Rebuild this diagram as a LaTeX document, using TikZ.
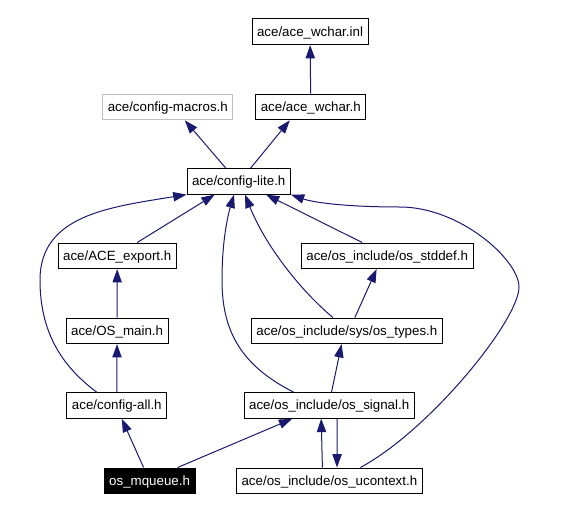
\documentclass[tikz,border=0pt]{standalone}
\usepackage{fontspec}
\setmainfont{Liberation Sans}
\usepackage{xcolor}
\usepackage{tikz}
\usetikzlibrary{arrows.meta}
\usetikzlibrary{calc}
\definecolor{edgeblue}{HTML}{191970}
\definecolor{ghost}{HTML}{BFBFBF}

\begin{document}
\begin{tikzpicture}[x=0.75pt, y=-0.75pt,
		file/.style={draw, fill=white, line width=0.75pt, font=\fontsize{10}{12}\selectfont,
			inner xsep=3.75pt, inner ysep=0pt, minimum height=19.2pt, text height=1.5ex, text depth=.3ex},
		dep/.style={edgeblue, line width=0.75pt, -{Triangle[length=10pt, width=7pt]}}
	]
	\useasboundingbox (0,0) rectangle (566,510);

	% files
	\node[file] (inl) at (310,31.8) {ace/ace\_wchar.inl};
	\node[file, draw=ghost] (macros) at (167.8,107) {ace/config-macros.h};
	\node[file] (wchar) at (310.8,107) {ace/ace\_wchar.h};
	\node[file] (lite) at (238.7,181.3) {ace/config-lite.h};
	\node[file] (export) at (117.2,255.8) {ace/ACE\_export.h};
	\node[file] (stddef) at (387.2,255.8) {ace/os\_include/os\_stddef.h};
	\node[file] (osmain) at (117.1,330.8) {ace/OS\_main.h};
	\node[file] (types) at (346.9,330.8) {ace/os\_include/sys/os\_types.h};
	\node[file] (all) at (116.8,405.5) {ace/config-all.h};
	\node[file] (signal) at (329.2,405.5) {ace/os\_include/os\_signal.h};
	\node[file, fill=black, text=white] (mqueue) at (149.6,480.8) {os\_mqueue.h};
	\node[file] (ucontext) at (329.4,480.8) {ace/os\_include/os\_ucontext.h};

	% includes
	\draw[dep] (wchar) -- (inl);
	\draw[dep] ($(lite.north)+(-13,0)$) -- ($(macros.south)+(17,0)$);
	\draw[dep] ($(lite.north)+(12,0)$) -- ($(wchar.south)+(-21,0)$);
	\draw[dep] ($(export.north)+(20,0)$) -- ($(lite.south)+(-24,0)$);
	\draw[dep] (osmain) -- (export);
	\draw[dep] (all) -- (osmain);
	\draw[dep] ($(all.north)+(-20,0)$) .. controls (60,365) and (40,330) .. (40,280)
		.. controls (40,215) and (110,207) .. (lite.south west);
	\draw[dep] ($(mqueue.north)+(-6,0)$) -- ($(all.south)+(5,0)$);
	\draw[dep] ($(mqueue.north)+(28,0)$) -- ($(signal.south)+(-37,0)$);
	\draw[dep] ($(signal.north)+(-35.5,0)$) .. controls (240,365) and (222,330) .. (222,280)
		.. controls (222,240) and (228,215) .. ($(lite.south)+(-4.7,0)$);
	\draw[dep] ($(types.north)+(-14,0)$) .. controls (300,290) and (265,245) .. ($(lite.south)+(6.3,0)$);
	\draw[dep] ($(types.north)+(8,0)$) -- ($(stddef.south)+(-10.6,0)$);
	\draw[dep] ($(stddef.north)+(-25,0)$) -- ($(lite.south)+(27.3,0)$);
	\draw[dep] ($(signal.north)+(2.3,0)$) -- ($(types.south)+(-5.3,0)$);
	\draw[dep] ($(signal.south)+(8,0)$) -- ($(ucontext.north)+(7.6,0)$);
	\draw[dep] ($(ucontext.north)+(-7,0)$) -- ($(signal.south)+(-8,0)$);
	\draw[dep] ($(ucontext.north)+(31,0)$) .. controls (430,430) and (519,320) .. (519,287)
		.. controls (519,260) and (460,207) .. (400,207)
		.. controls (350,207) and (315,203) .. (lite.south east);
\end{tikzpicture}
\end{document}
